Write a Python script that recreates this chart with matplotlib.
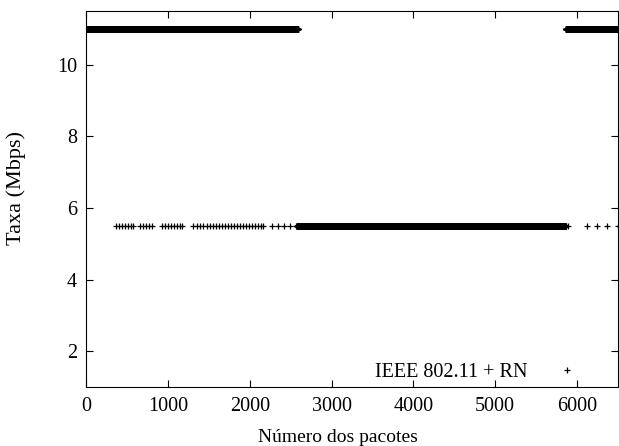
import matplotlib
matplotlib.use("Agg")
import matplotlib.pyplot as plt
import numpy as np

plt.rcParams["font.family"] = ["Liberation Serif", "DejaVu Serif"]

# runs of consecutive packets sent at one rate: (first, last, rate in Mbps)
rate_runs = [(0, 2590, 11.0), (2580, 5860, 5.5), (5860, 6500, 11.0)]

# single packets sent at 5.5 Mbps while the rest went at 11 Mbps
isolated_5_5 = [367, 403, 440, 477, 513, 550, 574,
                660, 697, 733, 770, 806,
                929, 965, 1002, 1039, 1075, 1112, 1148, 1173,
                1307, 1356, 1393, 1429, 1478,
                1515, 1552, 1588, 1625, 1662, 1698, 1735, 1772, 1808, 1845,
                1881, 1918, 1955, 1991, 2028, 2065, 2101, 2138, 2162,
                2272, 2345, 2419, 2492, 2565,
                5890, 6125, 6247, 6369, 6500]

xticks = [0, 1000, 2000, 3000, 4000, 5000, 6000]
yticks = [2, 4, 6, 8, 10]

pk = []
rate = []
for first, last, r in rate_runs:
    p = np.arange(first, last + 1)
    pk.append(p)
    rate.append(np.full(len(p), r))
pk.append(np.array(isolated_5_5))
rate.append(np.full(len(isolated_5_5), 5.5))
pk = np.concatenate(pk)
rate = np.concatenate(rate)

fig = plt.figure(figsize=(6.19, 4.46), dpi=100)
ax = fig.add_axes([86 / 619, 1 - 387 / 446, 532 / 619, 376 / 446])

ax.plot(pk, rate, linestyle="none", marker="+", markersize=5, mew=0.9,
        color="black", label="IEEE 802.11 + RN")

ax.set_xlim(0, 6500)
ax.set_ylim(1, 11.5)
ax.set_xticks(xticks)
ax.set_yticks(yticks)
ax.tick_params(direction="in", top=True, right=True, length=5, labelsize=14.5)
ax.tick_params(axis="x", pad=7.5)
ax.tick_params(axis="y", pad=6.5)
ax.set_xlabel("Número dos pacotes", fontsize=14)
ax.xaxis.set_label_coords(0.474, -0.111)
ax.set_ylabel("Taxa (Mbps)", fontsize=16)
ax.yaxis.set_label_coords(-0.112, 0.529)

ax.legend(loc="lower right", frameon=False, markerfirst=False, fontsize=14.5,
          handlelength=2.3, bbox_to_anchor=(0.963, -0.008), borderaxespad=0)

fig.savefig("out.png", dpi=100)
